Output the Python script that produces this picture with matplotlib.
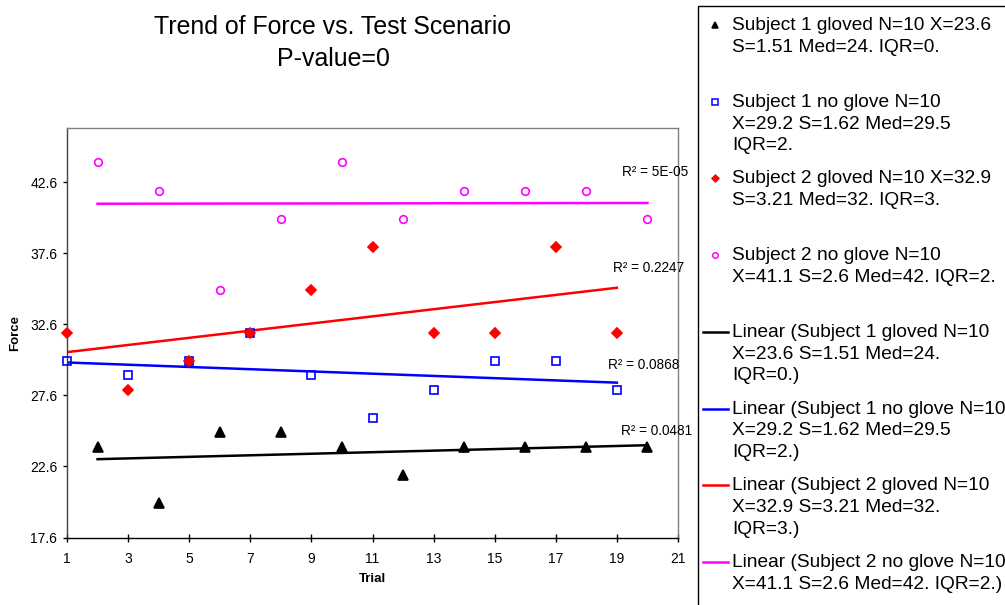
#! /usr/bin/python

"""
================================================================================
Title:    forceTrend

Overview: Force measured per trial for two subjects, with and without glove,
          along with a linear trendline and its R^2 for each series.
================================================================================
"""



# LIBRARIES
import matplotlib as mpl
mpl.use("Agg")
import matplotlib.pyplot as plt
import matplotlib.patches as patches
import matplotlib.lines as lines
import numpy as np



# DATA
trialsEven = [2, 4, 6, 8, 10, 12, 14, 16, 18, 20]
trialsOdd = [1, 3, 5, 7, 9, 11, 13, 15, 17, 19]

forceS1Gloved = [24, 20, 25, 25, 24, 22, 24, 24, 24, 24]
forceS1NoGlove = [30, 29, 30, 32, 29, 26, 28, 30, 30, 28]
forceS2Gloved = [32, 28, 30, 32, 35, 38, 32, 32, 38, 32]
forceS2NoGlove = [44, 42, 35, 40, 44, 40, 42, 42, 42, 40]

labelsSeries = ["Subject 1 gloved N=10 X=23.6\nS=1.51 Med=24. IQR=0.",
                "Subject 1 no glove N=10\nX=29.2 S=1.62 Med=29.5\nIQR=2.",
                "Subject 2 gloved N=10 X=32.9\nS=3.21 Med=32. IQR=3.",
                "Subject 2 no glove N=10\nX=41.1 S=2.6 Med=42. IQR=2."]

labelsTrend = ["Linear (Subject 1 gloved N=10\nX=23.6 S=1.51 Med=24.\nIQR=0.)",
               "Linear (Subject 1 no glove N=10\nX=29.2 S=1.62 Med=29.5\nIQR=2.)",
               "Linear (Subject 2 gloved N=10\nX=32.9 S=3.21 Med=32.\nIQR=3.)",
               "Linear (Subject 2 no glove N=10\nX=41.1 S=2.6 Med=42. IQR=2.)"]

xTicks = [1, 3, 5, 7, 9, 11, 13, 15, 17, 19, 21]
yTicks = [17.6, 22.6, 27.6, 32.6, 37.6, 42.6]

title = "Trend of Force vs. Test Scenario"
subtitle = "P-value=0"



# FIGURE SIZE (px)
W = 1005.0
H = 605.0



def px(x, y):

    """
    ============================================================================
    PX
    ============================================================================

    Converts pixel coordinates (origin top left) to figure fractions.
    """

    return x / W, 1 - y / H



def fitLine(x, y):

    """
    ============================================================================
    FITLINE
    ============================================================================
    """

    x = np.asarray(x, dtype = float)
    y = np.asarray(y, dtype = float)

    a, b = np.polyfit(x, y, 1)
    res = y - (a * x + b)
    r2 = 1 - np.sum(res ** 2) / np.sum((y - y.mean()) ** 2)

    return a, b, r2



def formatR2(r2):

    """
    ============================================================================
    FORMATR2
    ============================================================================
    """

    if r2 < 0.001:
        return u"R\u00b2 = " + "{:.0E}".format(r2)

    return u"R\u00b2 = " + "{:.4f}".format(r2)



def plotForce():

    """
    ============================================================================
    PLOTFORCE
    ============================================================================
    """

    # Initialize plot
    mpl.rc("font", size = 10, family = "Liberation Sans")
    fig = plt.figure(figsize = (W / 100, H / 100), dpi = 100)
    ax = fig.add_axes([67 / W, 67.5 / H, 611 / W, 409.5 / H])

    series = [(trialsEven, forceS1Gloved),
              (trialsOdd, forceS1NoGlove),
              (trialsOdd, forceS2Gloved),
              (trialsEven, forceS2NoGlove)]

    colors = ["black", "#0000ff", "#ff0000", "#ff00ff"]
    markers = ["^", "s", "D", "o"]
    sizes = [6.5, 5.5, 5, 5.5]
    filled = [True, False, True, False]

    # R^2 label offsets from the trendline end (px)
    offsets = [(-26, 14), (-9, 18), (-4, 20), (-25, 31)]

    # Scatter points
    for (x, y), c, m, s, f in zip(series, colors, markers, sizes, filled):
        ax.plot(x, y, ls = "none", marker = m, ms = s, mew = 1.2, mec = c,
                mfc = c if f else "none", zorder = 3, clip_on = False)

    # Linear trendlines with their R^2
    for (x, y), c, o in zip(series, colors, offsets):
        a, b, r2 = fitLine(x, y)
        xs = np.array([x[0], x[-1]], dtype = float)
        ax.plot(xs, a * xs + b, ls = "-", lw = 1.8, c = c, zorder = 2)
        ax.annotate(formatR2(r2), xy = (xs[-1], a * xs[-1] + b),
                    xytext = o, textcoords = "offset pixels", ha = "left",
                    va = "center", fontsize = 9.8)

    # Define plot axis
    ax.set_xlim(1, 21)
    ax.set_ylim(17.6, 46.4)
    ax.set_xticks(xTicks)
    ax.set_yticks(yTicks)
    ax.set_yticklabels(["{:.1f}".format(t) for t in yTicks])
    ax.tick_params(axis = "x", direction = "inout", length = 5.8, width = 1,
                   pad = 7.5, labelsize = 10)
    ax.tick_params(axis = "y", direction = "out", length = 3, width = 1,
                   pad = 4, labelsize = 10)

    ax.spines["left"].set_color("#404040")
    ax.spines["bottom"].set_color("black")
    ax.spines["top"].set_color("#808080")
    ax.spines["right"].set_color("#808080")
    for s in ax.spines.values():
        s.set_linewidth(1)

    fig.text(*px(15, 333), "Force", rotation = 90, ha = "center",
             va = "center", fontsize = 9.5, weight = "bold")
    fig.text(*px(372, 579), "Trial", ha = "center", va = "center",
             fontsize = 9.5, weight = "bold")

    # Define plot title
    fig.text(*px(333, 34.5), title, ha = "center", va = "baseline",
             fontsize = 17.9)
    fig.text(*px(333, 66), subtitle, ha = "center", va = "baseline",
             fontsize = 17.9)

    # Legend box (runs off the right and bottom edges)
    x0, y0 = px(697.5, 6)
    fig.add_artist(patches.Rectangle((x0, -0.1), 1, y0 + 0.1,
                                     transform = fig.transFigure,
                                     fill = False, ec = "black", lw = 1))

    # Legend entries
    for i in range(8):
        y = 25 + i * 76.7
        if i < 4:
            c = colors[i]
            fig.add_artist(lines.Line2D([px(714.5, y)[0]], [px(714.5, y)[1]],
                           transform = fig.transFigure, ls = "none",
                           marker = markers[i], ms = sizes[i] - 1.5,
                           mew = 1.1, mec = c,
                           mfc = c if filled[i] else "none"))
            label = labelsSeries[i]
        else:
            c = colors[i - 4]
            (xa, ya), (xb, yb) = px(703, y), px(727.5, y)
            fig.add_artist(lines.Line2D([xa, xb], [ya, yb],
                           transform = fig.transFigure, c = c, lw = 1.8))
            label = labelsTrend[i - 4]

        fig.text(*px(732.5, y - 8), label, ha = "left", va = "top",
                 fontsize = 13.75, linespacing = 1.37)

    # Store plot
    fig.savefig("out.png", dpi = 100)



def main():

    """
    ============================================================================
    MAIN
    ============================================================================
    """

    plotForce()



# Run this when script is called from terminal
if __name__ == "__main__":
    main()
